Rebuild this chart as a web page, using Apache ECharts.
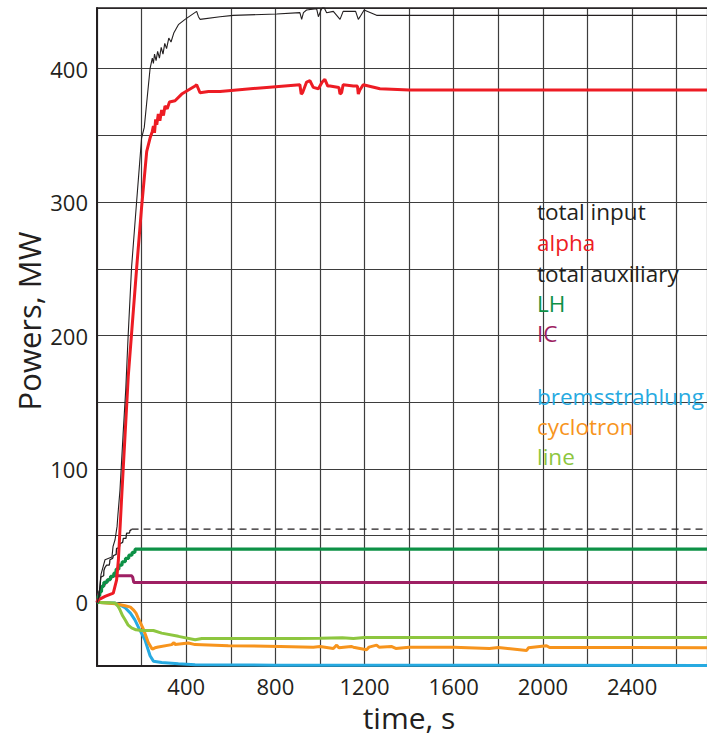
<!DOCTYPE html>
<html>
<head>
<meta charset="utf-8">
<script src="https://cdn.jsdelivr.net/npm/echarts@6/dist/echarts.min.js"></script>
<style>
html,body{margin:0;padding:0;background:#fff;}
#chart{width:707px;height:737px;}
</style>
</head>
<body>
<div id="chart"></div>
<script>
// ---- data (time in s, power in MW) ----
const totalInputT = [0,9,18,36,67,72,81,90,94,103,117,129,140,155,178,200,212,225,238,248,253,258,265,272,280,288,296,304,312,322,332,345,365,395,447,455,462,552,611,806,910,918,926,940,985,993,1005,1015,1030,1060,1090,1097,1104,1160,1172,1180,1198,1254,1400,1600,1800,2000,2200,2400,2600,2736];
const totalInputP = [0,4.5,21,32,34,42,47,57,66,84,126,160,201,251,301,348,356,378,400,408,404,411,406,413,408,416,411,419,415,423,420,427,433,437,443,439,437,439,440,441,442,437,442,444,445,439,444,447,442,443,437,440,443,443,437,439,444,440,440,440,440,440,440,440,440,440];

const alphaT = [0,6,36,73,88,96,110,126,140,178,200,223,238,248,253,258,263,268,275,282,290,298,305,315,325,350,380,440,447,462,500,552,761,910,916,922,940,955,970,993,1010,1022,1035,1045,1085,1090,1097,1104,1150,1168,1172,1179,1194,1269,1400,1600,1800,2000,2200,2400,2600,2736];
const alphaP = [0,2,4.5,7,17,32,77,126,169,251,296,338,348,353,357,352,362,358,366,361,369,365,372,370,375,376,381,387,388,382,383,383,386,388,381,382,390,391,386,385,390,392,387,387,386,381,382,388,387,387,381,384,388,385,384,384,384,384,384,384,384,384];

const auxT = [0,9,10,13,16,17,30,31,35,43,55,57,58,70,72,73,86,87,88,100,102,103,115,117,118,130,132,133,145,147,148,152,154,155,2736];
const auxP = [0,4.5,8,11,11,19,20,24,26,28,28,30,32,33,34,35,36,39,40.6,41,43,44,45,47,48,48,51,52,52,53,54,54,55,55,55];
const auxSolidUntil = 155;

const lhT = [0,5,6,12,13,20,21,30,31,45,46,60,61,75,76,85,86,98,99,112,113,127,128,142,143,157,158,170,171,2736];
const lhP = [0,0,5,5,8,8,12,12,15,15,17,17,19.5,19.5,22,22,25,25,28,28,30.5,30.5,33,33,35.5,35.5,37.5,37.5,40,40];

const icT = [0,8,20,40,60,73,155,160,165,2736];
const icP = [0,6,11,15,18,20,20,19,15,15];

const bremT = [0,13,81,105,126,150,170,190,215,238,253,290,365,440,800,2736];
const bremP = [0,0,-0.5,-2,-4,-8,-13,-20,-28,-40,-44,-45,-46,-46.6,-47,-47.2];

const cycloT = [0,13,81,126,150,163,175,185,208,230,248,260,275,335,345,350,410,440,589,821,970,1000,1060,1075,1085,1140,1150,1209,1220,1254,1265,1320,1340,1400,1600,1760,1800,1927,1935,2016,2030,2400,2736];
const cycloP = [0,0,-1,-2.5,-3.5,-5.5,-8,-11.7,-20,-30,-35,-34,-33.4,-31.6,-30,-31.5,-30.4,-31.6,-32.4,-33,-33.6,-33,-34.5,-32,-34,-33,-33.5,-35.4,-33.5,-32,-33.5,-33,-34.5,-33.5,-33.6,-34.5,-33.8,-36,-34,-32.4,-33.8,-33.8,-33.9];

const lineT = [0,13,81,95,103,115,126,140,155,175,200,253,290,365,440,470,600,900,1000,1100,1150,1200,2736];
const lineP = [0,0,-0.5,-3,-5.5,-10,-13,-17,-19,-20.5,-21,-21,-23,-25.4,-28,-27,-27,-27,-26.8,-26.5,-27,-26.3,-26.2];

const legendLabels = ['total input','alpha','total auxiliary','LH','IC','bremsstrahlung','cyclotron','line'];
const xTickLabels = [400,800,1200,1600,2000,2400];
const yTickLabels = [0,100,200,300,400];

// ---- styling ----
const C = {
  black:'#231f20', red:'#ed1c24', lh:'#0d9146', ic:'#9e1f63',
  brem:'#27aae1', cyclo:'#f7941d', line:'#8dc63f', grid:'#3d3d3d'
};
const zip = (t,p) => t.map((v,i)=>[v,p[i]]);
const auxAll = zip(auxT, auxP);
const auxSolid = auxAll.filter(d=>d[0] <= auxSolidUntil);
const auxDashed = auxAll.filter(d=>d[0] >= auxSolidUntil);

const chart = echarts.init(document.getElementById('chart'), null, {renderer:'svg'});
const FONT = '"Open Sans", "Noto Sans", sans-serif';

function ln(name, data, color, width, extra) {
  return Object.assign({
    name, type:'line', data, showSymbol:false, symbol:'none',
    lineStyle:{color, width}, itemStyle:{color}, animation:false, z:2
  }, extra||{});
}

const legendColors = [C.black, C.red, C.black, C.lh, C.ic, C.brem, C.cyclo, C.line];
const legendY = [215, 246, 277, 307, 337, 400, 430, 460];

const graphics = legendLabels.map((s,i)=>({
  type:'text', left:537, top:legendY[i]-15, z:10,
  style:{text:s, fill:legendColors[i], font:'22.5px ' + FONT}
}));
graphics.push({
  type:'text', x:29, y:321, rotation:Math.PI/2, z:10,
  style:{text:'Powers, MW', fill:C.black, font:'31px ' + FONT, textAlign:'center', textVerticalAlign:'middle'}
});

chart.setOption({
  animation:false,
  backgroundColor:'#fff',
  textStyle:{fontFamily:FONT},
  grid:{left:97, top:8, right:0, bottom:67, containLabel:false},
  xAxis:[{
    type:'value', min:0, max:2736, interval:200,
    name:'time, s', nameLocation:'middle', nameGap:35,
    nameTextStyle:{fontSize:30, color:C.black, fontFamily:FONT, padding:[0,0,0,14]},
    axisLine:{show:true, onZero:false, lineStyle:{color:C.black, width:2}},
    axisTick:{show:false},
    axisLabel:{fontSize:22, color:C.black, margin:9, fontFamily:FONT,
      showMaxLabel:false, showMinLabel:false,
      formatter:v => xTickLabels.indexOf(v) >= 0 ? String(v) : ''},
    splitLine:{show:true, lineStyle:{color:C.grid, width:1.2}}
  },{
    type:'value', min:0, max:2736, position:'top',
    axisLine:{show:true, onZero:false, lineStyle:{color:C.black, width:1.5}},
    axisTick:{show:false}, axisLabel:{show:false}, splitLine:{show:false}
  }],
  yAxis:{
    type:'value', min:-47.7, max:445.5, splitNumber:10, minInterval:50, maxInterval:50,
    axisLine:{show:true, onZero:false, lineStyle:{color:C.black, width:2}},
    axisTick:{show:false},
    axisLabel:{fontSize:22, color:C.black, margin:9, fontFamily:FONT,
      formatter:v => yTickLabels.indexOf(v) >= 0 ? String(v) : ''},
    splitLine:{show:true, lineStyle:{color:C.grid, width:1.2}}
  },
  series:[
    ln('bremsstrahlung', zip(bremT,bremP), C.brem, 3),
    ln('cyclotron', zip(cycloT,cycloP), C.cyclo, 3),
    ln('line', zip(lineT,lineP), C.line, 3),
    ln('IC', zip(icT,icP), C.ic, 3),
    ln('LH', zip(lhT,lhP), C.lh, 3.2),
    ln('total auxiliary', auxSolid, C.black, 1.3),
    ln('total auxiliary', auxDashed, C.black, 1.3, {lineStyle:{color:C.black, width:1.3, type:[7,5]}}),
    ln('alpha', zip(alphaT,alphaP), C.red, 3),
    ln('total input', zip(totalInputT,totalInputP), C.black, 1.1)
  ],
  graphic: graphics
});
</script>
</body>
</html>
